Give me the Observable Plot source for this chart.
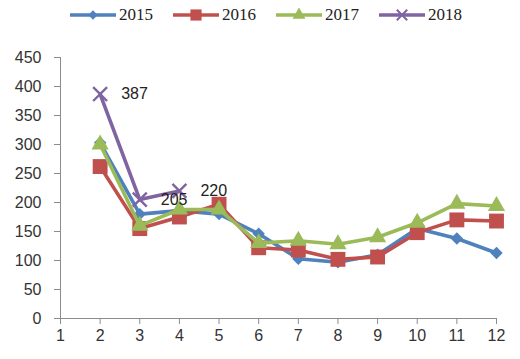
<!DOCTYPE html>
<html>
<head>
<meta charset="utf-8">
<script src="https://cdn.jsdelivr.net/npm/d3@7"></script>
<script src="https://cdn.jsdelivr.net/npm/@observablehq/plot@0.6"></script>
<style>
  body { margin: 0; background: #fff; width: 520px; height: 359px; overflow: hidden; }
  #legend { position: relative; height: 30px; width: 520px; font-family: "Liberation Serif", "Times New Roman", serif; font-size: 17px; color: #222; }
  .item { position: absolute; top: 4px; display: flex; align-items: center; height: 22px; }
  .item span { margin-left: 3px; }
</style>
</head>
<body>
<div id="legend"></div>
<div id="chart"></div>
<script>
const months = [2, 3, 4, 5, 6, 7, 8, 9, 10, 11, 12];
const xTicks = [1, 2, 3, 4, 5, 6, 7, 8, 9, 10, 11, 12];
const yTicks = [0, 50, 100, 150, 200, 250, 300, 350, 400, 450];
const years = ["2015", "2016", "2017", "2018"];
const v2015 = [303, 180, 186, 180, 146, 103, 97, 110, 155, 138, 113];
const v2016 = [262, 155, 175, 197, 122, 118, 102, 106, 148, 170, 168];
const v2017 = [300, 160, 188, 188, 130, 134, 128, 140, 165, 198, 194];
const v2018 = [387, 205, 220];
const labelled2018 = [387, 205, 220];

const colors = {"2015": "#4F81BD", "2016": "#C0504D", "2017": "#9BBB59", "2018": "#8064A2"};
const symbols = {"2015": "diamond2", "2016": "square", "2017": "triangle", "2018": "times"};
const radii = {"2015": 5.6, "2016": 8.4, "2017": 6.4, "2018": 6.4};

const seriesValues = {"2015": v2015, "2016": v2016, "2017": v2017, "2018": v2018};
const tables = {};
for (const y of years) {
  tables[y] = seriesValues[y].map((v, i) => ({month: months[i], value: v, year: y}));
}

const marks = [
  Plot.ruleY([0], {stroke: "#8c8c8c", strokeWidth: 1}),
  Plot.ruleX([1], {stroke: "#8c8c8c", strokeWidth: 1}),
  Plot.axisX({ticks: xTicks, tickSize: 6, tickPadding: 5, stroke: "#8c8c8c", fill: "#333", fontSize: 16, label: null, tickFormat: d => String(d)}),
  Plot.axisY({ticks: yTicks, tickSize: 6, tickPadding: 13, stroke: "#8c8c8c", fill: "#333", fontSize: 16, label: null, tickFormat: d => String(d)})
];
for (const y of years) {
  marks.push(Plot.line(tables[y], {x: "month", y: "value", stroke: colors[y], strokeWidth: 3.6, strokeLinejoin: "round"}));
  const stroked = symbols[y] === "times";
  marks.push(Plot.dot(tables[y], {
    x: "month", y: "value", symbol: symbols[y], r: radii[y],
    fill: stroked ? "none" : colors[y],
    stroke: stroked ? colors[y] : "none",
    strokeWidth: stroked ? 2.4 : 0
  }));
}
marks.push(Plot.text(tables["2018"].filter(d => labelled2018.includes(d.value)), {
  x: "month", y: "value", text: d => String(d.value), dx: 21, textAnchor: "start",
  fill: "#222", fontSize: 16, fontFamily: "Liberation Sans, Arial, sans-serif"
}));

const chart = Plot.plot({
  width: 520,
  height: 329,
  marginLeft: 60,
  marginRight: 24,
  marginTop: 27,
  marginBottom: 41,
  style: {fontFamily: "Liberation Sans, Arial, sans-serif", background: "#fff", overflow: "visible"},
  x: {domain: [1, 12], label: null},
  y: {domain: [0, 450], label: null},
  marks
});
document.getElementById("chart").appendChild(chart);

// Legend
const legend = document.getElementById("legend");
const lefts = [70, 173, 276, 379];
years.forEach((y, i) => {
  const item = document.createElement("div");
  item.className = "item";
  item.style.left = lefts[i] + "px";
  const ns = "http://www.w3.org/2000/svg";
  const svg = document.createElementNS(ns, "svg");
  svg.setAttribute("width", 46);
  svg.setAttribute("height", 22);
  const line = document.createElementNS(ns, "line");
  line.setAttribute("x1", 0); line.setAttribute("x2", 46);
  line.setAttribute("y1", 11); line.setAttribute("y2", 11);
  line.setAttribute("stroke", colors[y]); line.setAttribute("stroke-width", 3.6);
  line.setAttribute("stroke-linecap", "round");
  svg.appendChild(line);
  const path = document.createElementNS(ns, "path");
  const symMap = {diamond2: d3.symbolDiamond2, square: d3.symbolSquare, triangle: d3.symbolTriangle, times: d3.symbolTimes};
  const sr = radii[y] * 0.75;
  path.setAttribute("d", d3.symbol(symMap[symbols[y]], Math.PI * sr * sr)());
  path.setAttribute("transform", "translate(23,11)");
  if (symbols[y] === "times") {
    path.setAttribute("fill", "none"); path.setAttribute("stroke", colors[y]); path.setAttribute("stroke-width", 2);
  } else {
    path.setAttribute("fill", colors[y]);
  }
  svg.appendChild(path);
  item.appendChild(svg);
  const span = document.createElement("span");
  span.textContent = y;
  item.appendChild(span);
  legend.appendChild(item);
});
</script>
</body>
</html>
